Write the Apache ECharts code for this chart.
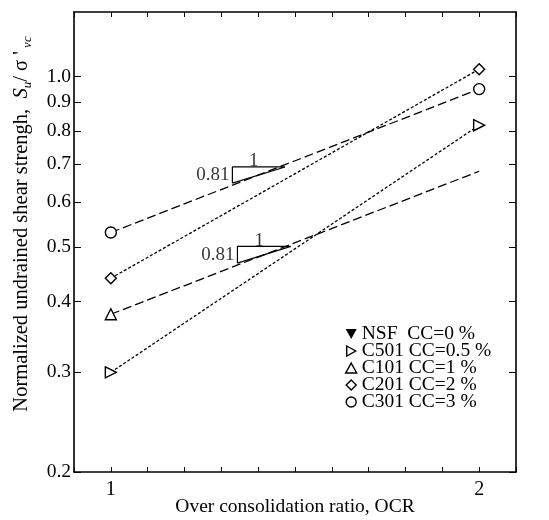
<!DOCTYPE html>
<html>
<head>
<meta charset="utf-8">
<script src="https://cdn.jsdelivr.net/npm/echarts@6/dist/echarts.min.js"></script>
<style>html,body{margin:0;padding:0;background:#fff}#c{width:549px;height:520px}</style>
</head>
<body>
<div id="c"></div>
<script>
// ---- data ----
const ocr = [1, 2];
const nsf = [];                 // NSF CC=0% (no points visible)
const c501 = [0.30, 0.82];      // CC=0.5%
const c101 = [0.38, 0.68];      // CC=1%
const c201 = [0.44, 1.03];      // CC=2%
const c301 = [0.53, 0.95];      // CC=3%
const yTicks = [0.2, 0.3, 0.4, 0.5, 0.6, 0.7, 0.8, 0.9, 1.0];
const xTicks = [1, 2];
const legendNames = ['NSF  CC=0 %', 'C501 CC=0.5 %', 'C101 CC=1 %', 'C201 CC=2 %', 'C301 CC=3 %'];
// slope annotation triangles (OCR, S/σ) : x0,x1,yLow,yHigh
const slopeTris = [
  {x0: 1.257, x1: 1.388, yLow: 0.648, yHigh: 0.692},
  {x0: 1.269, x1: 1.403, yLow: 0.468, yHigh: 0.501}
];
const slopeText = '0.81';
const runText = '1';

// ---- helpers ----
const lg = Math.log10;
const L = lg(2);
const xIv = L / 10;
const xMin = -xIv, xMax = 11 * xIv;
const yMin = lg(0.2), yMax = lg(1.3);
const FONT = 'Liberation Serif';

const symDown = 'path://M0,0 L10,0 L5,9 Z';
const symRight = 'path://M0,0 L9,5 L0,10 Z';
const symUp = 'path://M5,0 L10,9 L0,9 Z';
const symDiamond = 'path://M5,0 L10,5 L5,10 L0,5 Z';

function pts(ys, syms) {
  return ocr.map((x, i) => ({value: [lg(x), lg(ys[i])], symbol: syms ? syms[i] : undefined}))
    .filter(p => isFinite(p.value[1]));
}
const hollow = {color: '#fff', borderColor: '#000', borderWidth: 1.4};
function lineSeries(name, ys, sym, dash, syms) {
  return {
    name, type: 'line', data: pts(ys, syms), symbol: sym, symbolSize: 11,
    itemStyle: hollow,
    lineStyle: {color: '#000', width: 1.3, type: dash},
    z: 3, animation: false
  };
}

const series = [
  {name: legendNames[0], type: 'line', data: pts(nsf), symbol: symDown, symbolSize: 10,
   itemStyle: {color: '#000'}, lineStyle: {color: '#000'}, animation: false},
  lineSeries(legendNames[1], c501, symRight, [3, 2]),
  lineSeries(legendNames[2], c101, symUp, [9, 4], [symUp, 'none']),
  lineSeries(legendNames[3], c201, symDiamond, [3, 2]),
  lineSeries(legendNames[4], c301, 'circle', [9, 4])
];

slopeTris.forEach(t => {
  series.push({
    type: 'line', silent: true, symbol: 'none', animation: false,
    lineStyle: {color: '#000', width: 1.2},
    data: [[lg(t.x0), lg(t.yLow)], [lg(t.x0), lg(t.yHigh)], [lg(t.x1), lg(t.yHigh)], [lg(t.x0), lg(t.yLow)]]
  });
  series.push({
    type: 'scatter', silent: true, symbolSize: 0, animation: false,
    data: [
      {value: [lg(t.x0), (lg(t.yLow) + lg(t.yHigh)) / 2],
       label: {show: true, position: 'left', distance: 3, formatter: slopeText}},
      {value: [(lg(t.x0) + lg(t.x1)) / 2 - 0.004, lg(t.yHigh)],
       label: {show: true, position: 'top', distance: -4, formatter: runText}}
    ],
    label: {color: '#000', fontFamily: FONT, fontSize: 19}
  });
});

const axisLine = {show: true, onZero: false, lineStyle: {color: '#000', width: 1.6}};
const option = {
  backgroundColor: '#fff',
  animation: false,
  grid: {left: 74, right: 33, top: 12, bottom: 48, containLabel: false, outerBoundsMode: 'none'},
  xAxis: [
    {type: 'value', min: xMin, max: xMax, interval: xIv, position: 'bottom',
     axisLine, splitLine: {show: false},
     axisTick: {inside: true, length: 5, lineStyle: {color: '#000', width: 1}},
     axisLabel: {customValues: xTicks.map(lg), formatter: v => String(Math.round(Math.pow(10, v))),
       color: '#000', fontFamily: FONT, fontSize: 20, margin: 8},
     name: 'Over consolidation ratio, OCR', nameLocation: 'middle', nameGap: 25, nameMoveOverlap: false,
     nameTextStyle: {color: '#000', fontFamily: FONT, fontSize: 19.5}},
    {type: 'value', min: xMin, max: xMax, interval: xIv, position: 'top',
     axisLine, splitLine: {show: false},
     axisTick: {inside: true, length: 5, lineStyle: {color: '#000', width: 1}},
     axisLabel: {show: false}}
  ],
  yAxis: [
    {type: 'value', min: yMin, max: yMax, position: 'left',
     axisLine, splitLine: {show: false},
     axisTick: {inside: true, length: 7, customValues: yTicks.map(lg), lineStyle: {color: '#000', width: 1}},
     axisLabel: {customValues: yTicks.map(lg), formatter: v => Math.pow(10, v).toFixed(1),
       color: '#000', fontFamily: FONT, fontSize: 19.5, margin: 3}},
    {type: 'value', min: yMin, max: yMax, position: 'right',
     axisLine, splitLine: {show: false},
     axisTick: {inside: true, length: 7, customValues: yTicks.map(lg), lineStyle: {color: '#000', width: 1}},
     axisLabel: {show: false}}
  ],
  legend: {
    orient: 'vertical', left: 340, top: 319, itemGap: -3, itemWidth: 11, itemHeight: 10,
    selectedMode: false,
    textStyle: {color: '#000', fontFamily: FONT, fontSize: 19.5},
    data: [
      {name: legendNames[0], icon: symDown, itemStyle: {color: '#000', borderWidth: 0}},
      {name: legendNames[1], icon: symRight, itemStyle: {color: '#fff', borderColor: '#000', borderWidth: 1.4}},
      {name: legendNames[2], icon: symUp, itemStyle: {color: '#fff', borderColor: '#000', borderWidth: 1.4}},
      {name: legendNames[3], icon: symDiamond, itemStyle: {color: '#fff', borderColor: '#000', borderWidth: 1.4}},
      {name: legendNames[4], icon: 'circle', itemStyle: {color: '#fff', borderColor: '#000', borderWidth: 1.4}}
    ]
  },
  graphic: [{
    type: 'text', x: 22, y: 224, rotation: Math.PI / 2,
    style: {
      text: '{n|Normalized undrained shear strengh,  }{i|S}{s|u}{n|/ σ \'}{s| vc}',
      align: 'center', verticalAlign: 'middle', fill: '#000',
      rich: {
        n: {fontFamily: FONT, fontSize: 20.5, lineHeight: 24, fill: '#000'},
        i: {fontFamily: FONT, fontSize: 20.5, fontStyle: 'italic', lineHeight: 24, fill: '#000'},
        s: {fontFamily: FONT, fontSize: 13, fontStyle: 'italic', lineHeight: 24, verticalAlign: 'bottom', fill: '#000'}
      }
    }
  }],
  series
};
const chart = echarts.init(document.getElementById('c'), null, {renderer: 'canvas'});
chart.setOption(option);
</script>
</body>
</html>
